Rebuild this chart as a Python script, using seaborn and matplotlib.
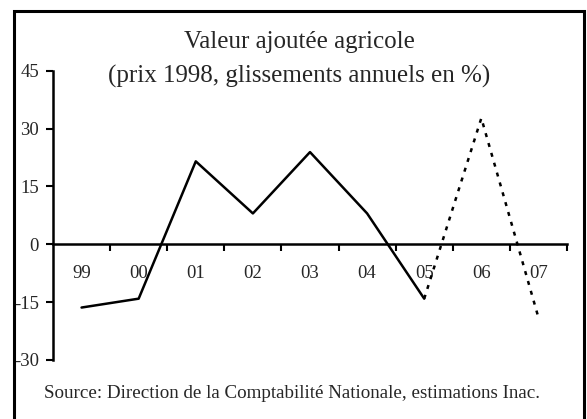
import matplotlib
matplotlib.use("Agg")
import matplotlib.pyplot as plt
import numpy as np
import pandas as pd
import seaborn as sns
from matplotlib.patches import Rectangle

years = ["99", "00", "01", "02", "03", "04", "05", "06", "07"]
observed = [-16.4, -14.1, 21.5, 8.0, 23.9, 8.0, -14.1]      # 99 -> 05
forecast = [-14.1, 32.7, -19.0]                              # 05 -> 07
y_ticks = [-30, -15, 0, 15, 30, 45]

sns.set_theme(style="white")
plt.rcParams["font.family"] = ["Liberation Serif", "DejaVu Serif"]

obs = pd.DataFrame({"x": np.arange(len(observed)), "y": observed})
fc = pd.DataFrame({"x": np.arange(len(observed) - 1, len(years)), "y": forecast})

fig = plt.figure(figsize=(5.87, 4.19), dpi=100)
ax = fig.add_axes([53 / 587, 1 - 360 / 419, (567 - 53) / 587, (360 - 70.7) / 419])

sns.lineplot(data=obs, x="x", y="y", color="black", linewidth=1.8, ax=ax)
sns.lineplot(data=fc, x="x", y="y", color="black", linewidth=1.8,
             dashes=False, ax=ax).lines[-1].set_dashes((1.6, 2.5))

ax.set_xlim(-0.5, len(years) - 0.5)
ax.set_ylim(-30, 45)
ax.set_xlabel("")
ax.set_ylabel("")

# y axis
ax.set_yticks(y_ticks)
ax.set_yticklabels([str(v) for v in y_ticks], fontsize=13.5)
ax.tick_params(axis="y", left=True, direction="out", length=5, width=1.5,
               pad=5, color="black")

# x axis on zero line, ticks at category boundaries
ax.spines["bottom"].set_position(("data", 0))
ax.spines["top"].set_visible(False)
ax.spines["right"].set_visible(False)
for s in ["left", "bottom"]:
    ax.spines[s].set_color("black")
    ax.spines[s].set_linewidth(1.8)
ax.set_xticks(np.arange(len(years)))
ax.set_xticklabels(years, fontsize=13.5)
ax.set_xticks(np.arange(len(years)) + 0.5, minor=True)
ax.tick_params(axis="x", which="major", bottom=True, length=0, pad=15)
ax.tick_params(axis="x", which="minor", bottom=True, direction="out",
               length=5, width=1.5, color="black")
ax.patch.set_alpha(0)

fig.text(299 / 587, 1 - 42 / 419, "Valeur ajoutée agricole",
         ha="center", va="center", fontsize=18)
fig.text(299 / 587, 1 - 76 / 419, "(prix 1998, glissements annuels en %)",
         ha="center", va="center", fontsize=18)
fig.text(292 / 587, 1 - 393 / 419,
         "Source: Direction de la Comptabilité Nationale, estimations Inac.",
         ha="center", va="center", fontsize=13.7)

fig.patches.append(Rectangle((13.5 / 587, -0.05), (583.5 - 13.5) / 587, 1.05 - 11 / 419,
                             transform=fig.transFigure, fill=False,
                             edgecolor="black", linewidth=2.2))

fig.savefig("out.png", dpi=100)
